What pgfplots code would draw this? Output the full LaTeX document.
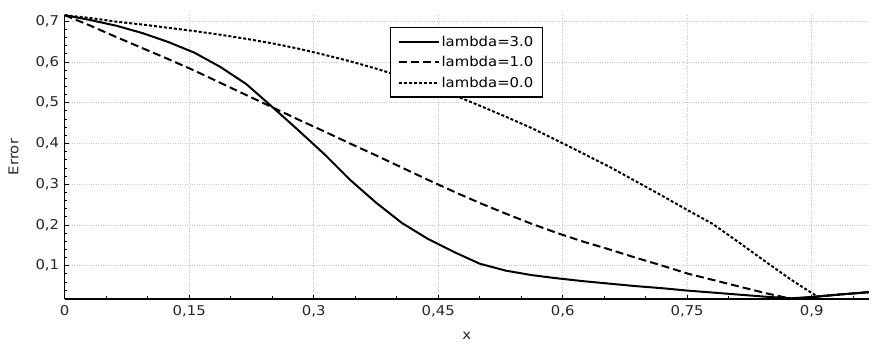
\documentclass[border=0pt]{standalone}
\usepackage{fontspec}
\setmainfont{DejaVu Sans}[FakeStretch=1.1]
\usepackage{pgfplots}
\pgfplotsset{compat=1.18}
\usetikzlibrary{calc}

% error curves, sampled at k/32
\pgfplotstableread{
x        e
0        0.715
0.03125  0.703
0.0625   0.689
0.09375  0.671
0.125    0.649
0.15625  0.623
0.1875   0.588
0.21875  0.546
0.25     0.490
0.28125  0.433
0.3125   0.3745
0.34375  0.311
0.375    0.255
0.40625  0.205
0.4375   0.166
0.46875  0.134
0.5      0.105
0.53125  0.088
0.5625   0.077
0.59375  0.069
0.625    0.062
0.65625  0.056
0.6875   0.050
0.71875  0.045
0.75     0.039
0.78125  0.034
0.8125   0.029
0.84375  0.024
0.875    0.020
0.90625  0.024
0.9375   0.030
0.96875  0.035
}\lamthree
\pgfplotstableread{
x        e
0        0.715
0.03125  0.689
0.0625   0.661
0.09375  0.634
0.125    0.607
0.15625  0.579
0.1875   0.549
0.21875  0.519
0.25     0.489
0.28125  0.459
0.3125   0.430
0.34375  0.400
0.375    0.371
0.40625  0.341
0.4375   0.311
0.46875  0.282
0.5      0.254
0.53125  0.228
0.5625   0.203
0.59375  0.180
0.625    0.159
0.65625  0.140
0.6875   0.120
0.71875  0.101
0.75     0.081
0.78125  0.065
0.8125   0.049
0.84375  0.033
0.875    0.019
0.90625  0.024
0.9375   0.030
0.96875  0.035
}\lamone
\pgfplotstableread{
x        e
0        0.715
0.03125  0.708
0.0625   0.699
0.09375  0.692
0.125    0.684
0.15625  0.676
0.1875   0.667
0.21875  0.657
0.25     0.646
0.28125  0.633
0.3125   0.618
0.34375  0.602
0.375    0.584
0.40625  0.564
0.4375   0.543
0.46875  0.519
0.5      0.493
0.53125  0.466
0.5625   0.438
0.59375  0.407
0.625    0.375
0.65625  0.343
0.6875   0.308
0.71875  0.273
0.75     0.237
0.78125  0.202
0.8125   0.157
0.84375  0.111
0.875    0.066
0.90625  0.025
0.9375   0.030
0.96875  0.035
}\lamzero

\begin{document}
\begin{tikzpicture}
\begin{axis}[
  scale only axis,
  width=804pt, height=284pt,
  xmin=0, xmax=0.96875,
  ymin=0.0183, ymax=0.7155,
  axis lines=left,
  axis line style={line width=1.2pt, -},
  xtick={0,0.15,0.3,0.45,0.6,0.75,0.9},
  minor xtick={0.05,0.1,0.2,0.25,0.35,0.4,0.5,0.55,0.65,0.7,0.8,0.85,0.95},
  ytick={0.1,0.2,0.3,0.4,0.5,0.6,0.7},
  minor ytick={0.02,0.04,0.06,0.08,0.12,0.14,0.16,0.18,0.22,0.24,0.26,0.28,
    0.32,0.34,0.36,0.38,0.42,0.44,0.46,0.48,0.52,0.54,0.56,0.58,0.62,0.64,0.66,0.68},
  tick align=inside,
  major tick length=4pt,
  minor tick length=2.5pt,
  tick style={black, line width=0.9pt},
  xmajorgrids, ymajorgrids,
  major grid style={gray!45, dotted, line width=0.8pt},
  /pgf/number format/use comma,
  /pgf/number format/assume math mode=true,
  ticklabel style={font=\fontsize{13.5}{15}\selectfont, text=black!85},
  xticklabel style={yshift=-3pt},
  yticklabel style={xshift=-2pt},
  xlabel={x},
  ylabel={Error},
  label style={font=\fontsize{13.5}{15}\selectfont, text=black!85},
  xlabel style={yshift=-8pt},
  ylabel style={yshift=10pt},
  legend cell align=left,
  legend image code/.code={
    \draw[#1] (0pt,0pt) -- (33pt,0pt);
    \path (0pt,0pt) -- (40pt,0pt);},
  legend style={
    at={(rel axis cs:0.4046,0.957)}, anchor=north west,
    draw=black, line width=1.2pt,
    font=\fontsize{13.5}{15}\selectfont,
    inner xsep=7pt, inner ysep=6pt,
    row sep=5pt,
  },
  clip=true,
]
\coordinate (bl) at (rel axis cs:0,0);

\addplot[black, line width=2pt, mark=none] table[x=x, y=e] {\lamthree};
\addlegendentry{lambda=3.0}

\addplot[black, line width=2pt, mark=none, dash pattern=on 8pt off 4pt] table[x=x, y=e] {\lamone};
\addlegendentry{lambda=1.0}

\addplot[black, line width=2pt, mark=none, dash pattern=on 3pt off 2pt] table[x=x, y=e] {\lamzero};
\addlegendentry{lambda=0.0}
\end{axis}
\pgfresetboundingbox
\path ($(bl)+(-64.7pt,-48pt)$) rectangle ($(bl)+(817.3pt,299pt)$);
\end{tikzpicture}
\end{document}
